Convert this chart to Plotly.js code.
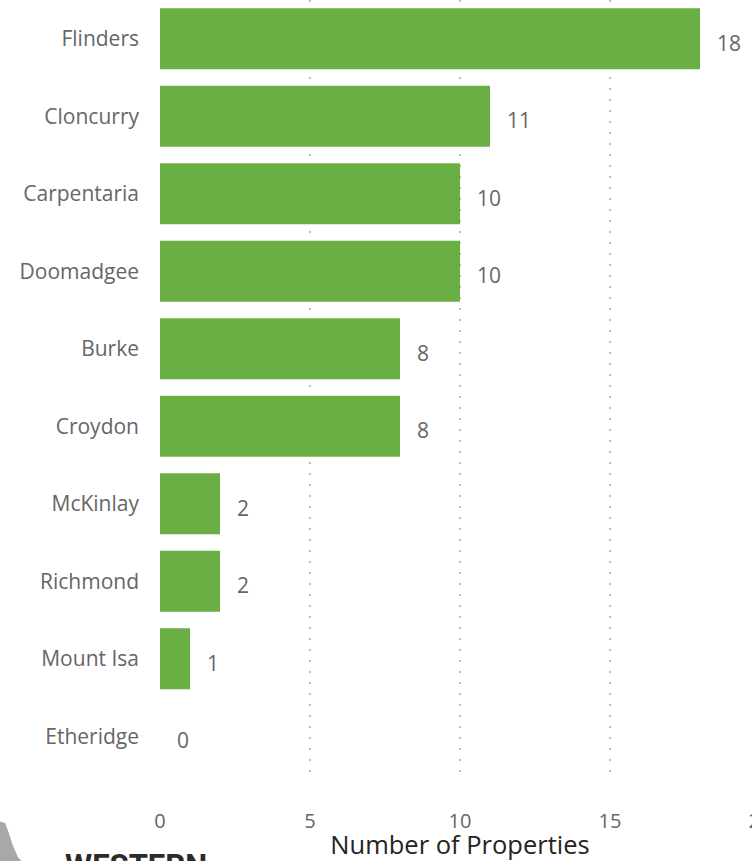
<!DOCTYPE html>
<html>
<head>
<meta charset="utf-8">
<script src="https://cdn.plot.ly/plotly-3.0.1.min.js"></script>
<style>
html,body{margin:0;padding:0;overflow:hidden;background:#fff;width:752px;height:861px;}
#chart{width:780px;height:861px;}
</style>
</head>
<body>
<div id="chart"></div>
<script>
const categories = ["Flinders","Cloncurry","Carpentaria","Doomadgee","Burke","Croydon","McKinlay","Richmond","Mount Isa","Etheridge"];
const values = [18, 11, 10, 10, 8, 8, 2, 2, 1, 0];
const xTicks = [0, 5, 10, 15, 20];

const labelAnnotations = categories.map((c, i) => ({
  x: values[i], y: c, xref: 'x', yref: 'y',
  text: String(values[i]), showarrow: false,
  xanchor: 'left', yanchor: 'middle', xshift: 15, yshift: -4,
  font: {family: 'Open Sans, sans-serif', size: 21, color: '#666666'}
}));

const data = [{
  type: 'bar', orientation: 'h',
  x: values, y: categories,
  marker: {color: '#6AAF44'},
  hoverinfo: 'x+y'
}];

const layout = {
  width: 780, height: 861,
  margin: {l: 160, r: 20, t: 0, b: 86},
  paper_bgcolor: '#ffffff', plot_bgcolor: '#ffffff',
  bargap: 0.21,
  showlegend: false,
  font: {family: 'Open Sans, sans-serif'},
  xaxis: {
    range: [0, 20], tickvals: xTicks, ticktext: xTicks.map(String),
    showgrid: true, gridcolor: '#bdbdbd', griddash: '2px,9px', gridwidth: 1.5,
    zeroline: false, showline: false, ticks: '',
    ticklabelstandoff: 32,
    tickfont: {family: 'Open Sans, sans-serif', size: 20, color: '#666666'},
    title: {text: 'Number of Properties', standoff: 0,
            font: {family: 'Open Sans, sans-serif', size: 25.5, color: '#252423'}}
  },
  yaxis: {
    type: 'category', autorange: 'reversed',
    showgrid: false, zeroline: false, showline: false, ticks: '',
    ticklabelstandoff: 20,
    tickfont: {family: 'Open Sans, sans-serif', size: 21, color: '#666666'}
  },
  annotations: labelAnnotations.concat([{
    x: -0.162, y: -0.0905, xref: 'paper', yref: 'paper',
    text: '<b>WESTERN</b>', showarrow: false,
    xanchor: 'left', yanchor: 'top',
    font: {family: 'Roboto, sans-serif', size: 31, color: '#2b2b2b'}
  }]),
  shapes: [{
    type: 'path', xref: 'paper', yref: 'paper',
    path: 'M -0.2667 -0.06 L -0.2583 -0.062 L -0.2517 -0.075 L -0.2467 -0.088 L -0.2417 -0.097 L -0.2367 -0.106 L -0.23 -0.112 L -0.2667 -0.112 Z',
    fillcolor: '#a8a8a8', line: {width: 0}
  }]
};

Plotly.newPlot('chart', data, layout, {displayModeBar: false, staticPlot: true});
</script>
</body>
</html>
